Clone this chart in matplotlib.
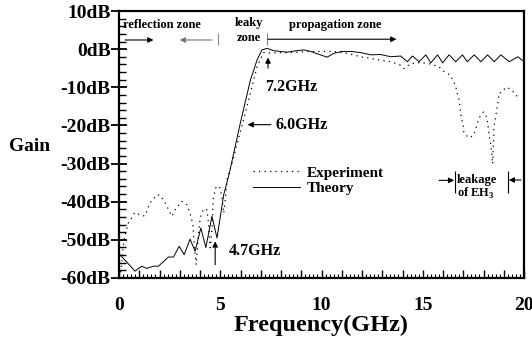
import matplotlib
matplotlib.use('Agg')
import matplotlib.pyplot as plt
from matplotlib.ticker import MultipleLocator, FuncFormatter

plt.rcParams['font.family'] = ['Liberation Serif', 'DejaVu Serif']
plt.rcParams['font.weight'] = 'bold'
plt.rcParams['mathtext.fontset'] = 'custom'
plt.rcParams['mathtext.rm'] = 'Liberation Serif:bold'

# Theory curve (GHz, dB)
theory_f = [0.05, 0.79, 1.12, 1.37, 1.7, 1.95, 2.44, 2.69, 2.97, 3.22, 3.51, 3.76,
            4.04, 4.29, 4.59, 4.84, 5.17, 5.45, 5.99, 6.49, 6.82, 7.06, 7.31, 7.64,
            8.3, 8.63, 9.13, 9.46, 9.95, 10.28, 10.61, 11.02, 11.44, 11.93, 12.43,
            12.92, 13.42, 13.91, 14.24, 14.49, 14.82, 15.15, 15.4, 15.73, 15.98,
            16.3, 16.63, 16.96, 17.2, 17.54, 17.87, 18.2, 18.53, 18.86, 19.27,
            19.7, 20.0]
theory_db = [-53.9, -58.2, -56.9, -57.5, -56.9, -56.9, -54.5, -54.5, -51.7, -53.9,
             -49.8, -53.0, -46.9, -52.0, -43.8, -49.5, -38.2, -32.5, -19.4, -8.1,
             -2.8, -0.2, 0.2, -0.4, -0.8, -0.5, -0.2, -0.6, -1.5, -2.1, -1.1, -0.6,
             -0.6, -0.9, -1.5, -1.4, -2.0, -1.8, -3.3, -1.8, -3.3, -1.5, -3.6, -1.5,
             -3.6, -1.5, -3.3, -1.5, -3.3, -1.5, -3.3, -1.5, -3.3, -1.5, -3.3,
             -2.0, -3.3]

# Experiment curve (GHz, dB)
exp_f = [0.08, 0.15, 0.2, 0.3, 0.46, 0.79, 1.12, 1.29, 1.53, 1.87, 2.03, 2.28,
         2.61, 2.77, 3.1, 3.35, 3.51, 3.65, 3.71, 3.81, 3.93, 4.01, 4.17, 4.34,
         4.42, 4.5, 4.59, 4.67, 4.8, 4.97, 5.08, 5.17, 5.25, 5.33, 5.58, 6.15,
         6.49, 6.82, 7.14, 7.47, 7.97, 8.63, 9.29, 9.95, 10.61, 11.27, 11.93,
         12.43, 12.92, 13.42, 13.91, 14.08, 14.4, 14.9, 15.3, 15.8, 16.06, 16.35,
         16.5, 16.63, 16.7, 16.79, 16.84, 16.88, 16.93, 17.0, 17.03, 17.26, 17.5,
         17.6, 17.7, 17.8, 18.0, 18.15, 18.2, 18.25, 18.3, 18.37, 18.4, 18.42,
         18.45, 18.52, 18.6, 18.7, 18.77, 18.9, 19.1, 19.32, 19.57, 19.73]
exp_db = [-58.5, -55.0, -52.0, -48.6, -45.6, -42.8, -43.7, -43.7, -40.3, -38.2,
          -38.3, -40.3, -43.8, -42.1, -39.9, -40.8, -43.0, -46.0, -50.8, -56.5,
          -48.2, -44.3, -41.9, -42.1, -45.6, -52.1, -47.3, -38.6, -36.0, -36.1,
          -38.6, -43.0, -39.5, -34.2, -29.9, -18.5, -11.5, -4.6, -0.9, -1.0, -0.9,
          -0.9, -0.6, -0.6, -0.6, -1.1, -2.0, -2.4, -2.9, -3.3, -4.2, -5.1, -3.8,
          -3.5, -3.8, -4.6, -5.9, -6.8, -8.2, -9.8, -11.5, -13.3, -15.0, -16.8,
          -18.5, -20.3, -21.9, -23.2, -22.7, -21.2, -19.4, -17.9, -16.5, -17.7,
          -19.4, -21.2, -23.3, -25.3, -26.8, -28.4, -30.1, -20.3, -17.7, -14.6,
          -11.5, -11.3, -10.0, -10.4, -11.7, -12.9]

x_labels = {0: '0', 5: '5', 10: '10', 15: '15', 20: '20'}

fig = plt.figure(figsize=(5.32, 3.49), dpi=100)
ax = fig.add_axes([119 / 532, 71 / 349, 405 / 532, 267 / 349])

ax.plot(exp_f, exp_db, color='k', lw=0.9, linestyle=(0, (1, 3.4)), label='Experiment')
ax.plot(theory_f, theory_db, color='k', lw=0.7, label='Theory')

ax.set_xlim(0, 20)
ax.set_ylim(-60, 10)

for s in ax.spines.values():
    s.set_linewidth(1.6)

ax.xaxis.set_major_locator(MultipleLocator(1))
ax.xaxis.set_minor_locator(MultipleLocator(0.2))
ax.xaxis.set_major_formatter(FuncFormatter(lambda v, p: x_labels.get(int(round(v)), '')))
ax.yaxis.set_major_locator(MultipleLocator(10))
ax.yaxis.set_minor_locator(MultipleLocator(2))
ax.yaxis.set_major_formatter(FuncFormatter(lambda v, p: f'{int(v)}dB'))

ax.tick_params(axis='x', which='major', direction='in', length=6, width=1, pad=14,
               labelsize=14, top=False)
ax.tick_params(axis='x', which='minor', direction='in', length=3, width=0.8, top=False)
ax.tick_params(axis='y', which='major', direction='inout', length=12, width=1.3, pad=0,
               labelsize=14, right=False)
ax.tick_params(axis='y', which='minor', direction='in', length=5, width=1, right=False)

ax.set_xlabel('Frequency(GHz)', fontsize=17.5, fontweight='bold', labelpad=0)
fig.text(30 / 532, 1 - 146 / 349, 'Gain', fontsize=14, fontweight='bold',
         ha='center', va='center')

arrow = dict(arrowstyle='-|>', color='k', lw=0.8, mutation_scale=8, shrinkA=0, shrinkB=0)
garrow = dict(arrowstyle='-|>', color='#777777', lw=0.8, mutation_scale=8,
              shrinkA=0, shrinkB=0)

# zone annotations
ax.text(0.2, 6.2, 'reflection zone', fontsize=9, ha='left', va='center')
ax.annotate('', xy=(1.7, 2.4), xytext=(0.3, 2.4), arrowprops=arrow)
ax.annotate('', xy=(3.0, 2.4), xytext=(4.6, 2.4), arrowprops=garrow)
ax.vlines(4.87, 1.1, 4.2, color='#888888', lw=0.8)
ax.text(6.4, 4.9, 'leaky\nzone', fontsize=9, ha='center', va='center', linespacing=1.25)
ax.vlines(7.3, 1.1, 4.2, color='#888888', lw=0.8)
ax.annotate('', xy=(13.7, 2.6), xytext=(7.35, 2.6), arrowprops=arrow)
ax.text(10.7, 6.3, 'propagation zone', fontsize=9, ha='center', va='center')

# frequency markers
ax.annotate('', xy=(7.36, -2.2), xytext=(7.36, -5.0), arrowprops=arrow)
ax.text(7.2, -9.9, '7.2GHz', fontsize=11.5, ha='left', va='center')
ax.annotate('', xy=(6.35, -19.8), xytext=(7.5, -19.8), arrowprops=arrow)
ax.text(7.75, -19.8, '6.0GHz', fontsize=11.5, ha='left', va='center')
ax.annotate('', xy=(4.75, -50.4), xytext=(4.75, -56.5), arrowprops=arrow)
ax.text(5.4, -53.0, '4.7GHz', fontsize=11.5, ha='left', va='center')

# leakage of EH3
ax.annotate('', xy=(16.55, -34.4), xytext=(15.8, -34.4), arrowprops=arrow)
ax.vlines(16.6, -37.7, -32.0, color='k', lw=0.8)
ax.text(17.7, -34.2, 'leakage', fontsize=9, ha='center', va='center')
ax.text(17.6, -37.9, r'of EH$_{\rm 3}$', fontsize=9, ha='center', va='center')
ax.vlines(19.2, -37.7, -32.0, color='k', lw=0.8)
ax.annotate('', xy=(19.25, -34.3), xytext=(19.85, -34.3), arrowprops=arrow)

ax.legend(loc='center left', bbox_to_anchor=(0.331, 0.365), frameon=False,
          fontsize=11, handlelength=3.1, handletextpad=0.4, labelspacing=0.1,
          borderpad=0, borderaxespad=0)

fig.savefig('out.png', dpi=100)
